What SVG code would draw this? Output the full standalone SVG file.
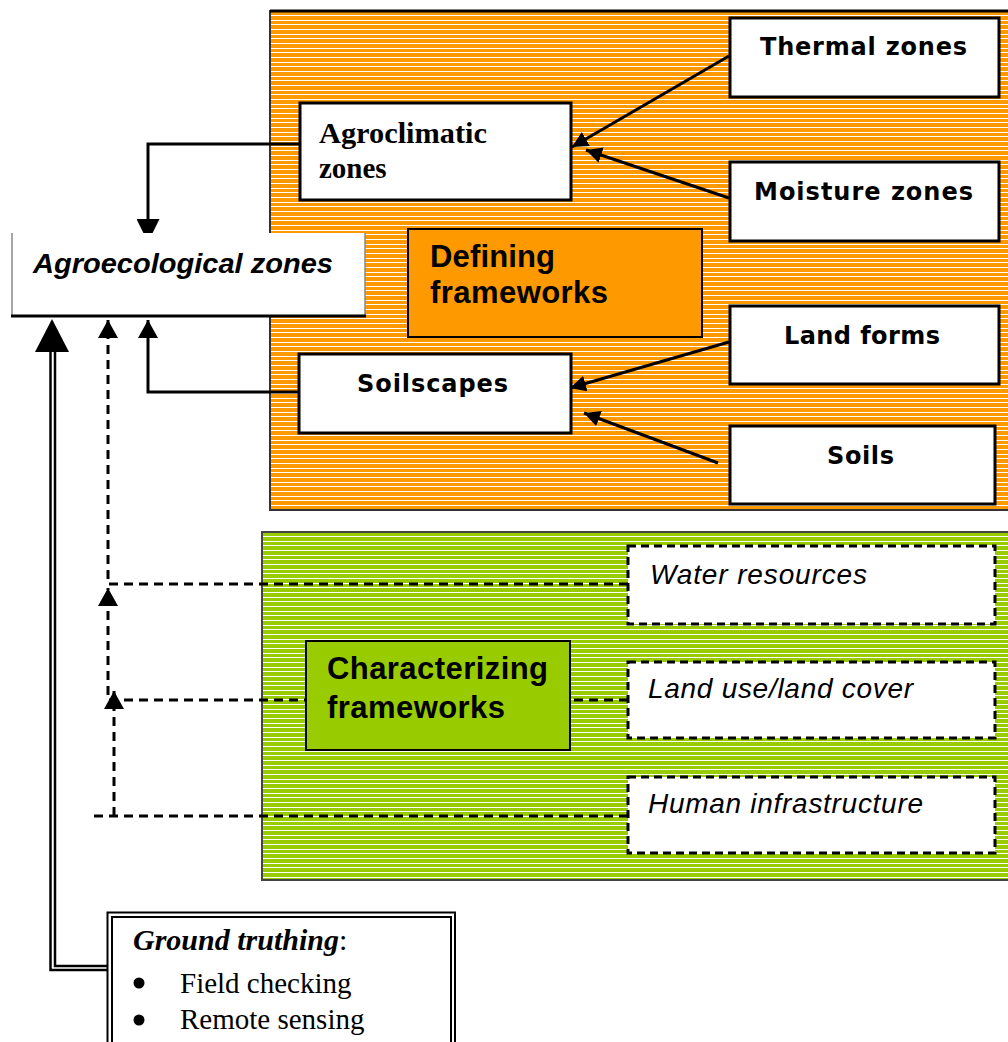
<svg xmlns="http://www.w3.org/2000/svg" width="1008" height="1042" viewBox="0 0 1008 1042">
  <defs>
    <pattern id="orangeStripes" patternUnits="userSpaceOnUse" width="10" height="14" x="0" y="12">
      <rect width="10" height="14" fill="#FF9900"/>
      <rect y="3" width="10" height="1" fill="#FFFFFF"/>
      <rect y="8" width="10" height="1" fill="#FFFFFF"/>
      <rect y="12" width="10" height="1" fill="#FFFFFF"/>
    </pattern>
    <pattern id="greenStripes" patternUnits="userSpaceOnUse" width="10" height="14" x="0" y="533">
      <rect width="10" height="14" fill="#99CC00"/>
      <rect y="3" width="10" height="1" fill="#FFFFFF"/>
      <rect y="8" width="10" height="1" fill="#FFFFFF"/>
      <rect y="12" width="10" height="1" fill="#FFFFFF"/>
    </pattern>
    <marker id="ah" viewBox="0 0 10 10" refX="10" refY="5" markerUnits="userSpaceOnUse" markerWidth="18" markerHeight="20" preserveAspectRatio="none" orient="auto">
      <path d="M0,0 L10,5 L0,10 z" fill="#000"/>
    </marker>
    <marker id="ahSmall" viewBox="0 0 10 10" refX="10" refY="5" markerUnits="userSpaceOnUse" markerWidth="16" markerHeight="16" preserveAspectRatio="none" orient="auto">
      <path d="M0,0 L10,5 L0,10 z" fill="#000"/>
    </marker>
    <marker id="ahDown" viewBox="0 0 10 10" refX="10" refY="5" markerUnits="userSpaceOnUse" markerWidth="14" markerHeight="23" preserveAspectRatio="none" orient="auto">
      <path d="M0,0 L10,3 L10,7 L0,10 z" fill="#000"/>
    </marker>
  </defs>
  <style>
    .box { fill: #FFFFFF; stroke: #000; stroke-width: 3; }
    .dbox { fill: #FFFFFF; stroke: #000; stroke-width: 3; stroke-dasharray: 8 5; }
    .conn { fill: none; stroke: #000; stroke-width: 3; }
    .dconn { fill: none; stroke: #000; stroke-width: 3; stroke-dasharray: 9 6; }
    .bold { font-family: "DejaVu Sans", Verdana, sans-serif; font-weight: bold; font-size: 24px; fill: #000; }
    .serif { font-family: "Liberation Serif", "Times New Roman", serif; fill: #000; }
    .title { font-family: "Liberation Sans", Arial, sans-serif; font-weight: bold; font-size: 31px; fill: #000; }
    .ital { font-family: "Liberation Sans", Arial, sans-serif; font-style: italic; font-size: 28px; fill: #000; }
  </style>

  <!-- panels -->
  <g id="panel-defining">
    <rect x="270" y="11" width="740" height="499" fill="url(#orangeStripes)" stroke="#333" stroke-width="2"/>
    <line x1="270" y1="11" x2="1010" y2="11" stroke="#000" stroke-width="3"/>
  </g>
  <g id="panel-characterizing">
    <rect x="262" y="532" width="748" height="348" fill="url(#greenStripes)" stroke="#444" stroke-width="2"/>
  </g>

  <!-- connectors -->
  <g id="connectors">
    <path class="conn" d="M300,144 H148 V233" marker-end="url(#ahDown)"/>
    <path class="conn" d="M299,392 H148 V320" marker-end="url(#ah)"/>
    <line class="conn" x1="729" y1="56" x2="572" y2="147" marker-end="url(#ahSmall)"/>
    <line class="conn" x1="729" y1="198" x2="586" y2="150" marker-end="url(#ahSmall)"/>
    <line class="conn" x1="729" y1="342" x2="570" y2="388" marker-end="url(#ahSmall)"/>
    <line class="conn" x1="718" y1="463" x2="584" y2="413" marker-end="url(#ahSmall)"/>
    <!-- dashed: water resources -->
    <path class="dconn" d="M628,584 H108 V320" marker-end="url(#ah)"/>
    <!-- dashed: land use -->
    <path class="dconn" d="M628,700 H108 V588" marker-end="url(#ah)"/>
    <!-- dashed: human infrastructure -->
    <path class="dconn" d="M628,816 H93"/>
    <path class="dconn" d="M114,816 V691" marker-end="url(#ah)"/>
    <!-- ground truthing double line -->
    <path fill="none" stroke="#000" stroke-width="2.5" d="M50.5,352 V970 H108"/>
    <path fill="none" stroke="#000" stroke-width="2.5" d="M55,352 V966 H108"/>
    <polygon points="52,319 35,352 69,352" fill="#000"/>
  </g>

  <!-- nodes -->
  <g id="node-agroecological">
    <rect x="12" y="233" width="353" height="84" fill="#FFFFFF"/>
    <line x1="12" y1="233" x2="12" y2="317" stroke="#888" stroke-width="1.5"/>
    <line x1="365" y1="233" x2="365" y2="317" stroke="#888" stroke-width="1.5"/>
    <line x1="11" y1="316" x2="366" y2="316" stroke="#000" stroke-width="3"/>
    <text x="33" y="273" font-family="Liberation Sans, Arial, sans-serif" font-weight="bold" font-style="italic" font-size="28" textLength="300" lengthAdjust="spacingAndGlyphs">Agroecological zones</text>
  </g>
  <g id="node-agroclimatic">
    <rect class="box" x="300" y="103" width="271" height="97"/>
    <text class="serif" x="319" y="143" font-size="29" font-weight="bold" textLength="168" lengthAdjust="spacingAndGlyphs">Agroclimatic</text>
    <text class="serif" x="319" y="178" font-size="29" font-weight="bold">zones</text>
  </g>
  <g id="node-thermal">
    <rect class="box" x="730" y="18" width="269" height="79"/>
    <text class="bold" x="760" y="55" textLength="207">Thermal zones</text>
  </g>
  <g id="node-moisture">
    <rect class="box" x="730" y="162" width="269" height="79"/>
    <text class="bold" x="754" y="200" textLength="219">Moisture zones</text>
  </g>
  <g id="node-defining">
    <rect x="408" y="229" width="294" height="108" fill="#FF9900" stroke="#000" stroke-width="2"/>
    <text class="title" x="430" y="267" textLength="125">Defining</text>
    <text class="title" x="430" y="303" textLength="178">frameworks</text>
  </g>
  <g id="node-landforms">
    <rect class="box" x="730" y="306" width="269" height="78"/>
    <text class="bold" x="784" y="344" textLength="156">Land forms</text>
  </g>
  <g id="node-soilscapes">
    <rect class="box" x="299" y="354" width="272" height="79"/>
    <text class="bold" x="357" y="392" textLength="151">Soilscapes</text>
  </g>
  <g id="node-soils">
    <rect class="box" x="730" y="426" width="265" height="78"/>
    <text class="bold" x="827" y="464" textLength="67">Soils</text>
  </g>
  <g id="node-characterizing">
    <rect x="306" y="641" width="264" height="109" fill="#99CC00" stroke="#000" stroke-width="2"/>
    <text class="title" x="327" y="679" textLength="221">Characterizing</text>
    <text class="title" x="327" y="718" textLength="178">frameworks</text>
  </g>
  <g id="node-water">
    <rect class="dbox" x="628" y="546" width="367" height="78"/>
    <text class="ital" x="650" y="584" textLength="217">Water resources</text>
  </g>
  <g id="node-landuse">
    <rect class="dbox" x="628" y="662" width="367" height="76"/>
    <text class="ital" x="648" y="698" textLength="265">Land use/land cover</text>
  </g>
  <g id="node-human">
    <rect class="dbox" x="628" y="777" width="367" height="76"/>
    <text class="ital" x="648" y="813" textLength="275">Human infrastructure</text>
  </g>
  <g id="node-groundtruthing">
    <rect x="107.5" y="912.5" width="347.5" height="140" fill="#FFFFFF" stroke="#000" stroke-width="2"/>
    <rect x="112" y="917" width="339" height="140" fill="none" stroke="#000" stroke-width="2"/>
    <text class="serif" x="133" y="950" font-size="30"><tspan font-weight="bold" font-style="italic">Ground truthing</tspan>:</text>
    <circle cx="139" cy="983" r="5.5" fill="#000"/>
    <text class="serif" x="180" y="993" font-size="29">Field checking</text>
    <circle cx="139" cy="1020" r="5.5" fill="#000"/>
    <text class="serif" x="180" y="1029" font-size="29">Remote sensing</text>
  </g>
</svg>
